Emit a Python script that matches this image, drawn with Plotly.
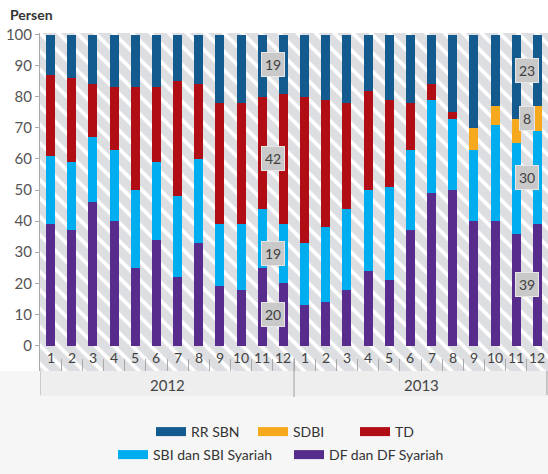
import plotly.graph_objects as go

# ---------------- data ----------------
years = ["2012", "2013"]
months = [str(m) for m in range(1, 13)]
categories = [f"{y}-{m}" for y in years for m in months]

rr_sbn = [13, 14, 16, 17, 17, 17, 15, 16, 22, 22, 20, 19,
          20, 21, 22, 18, 21, 22, 16, 25, 30, 23, 27, 23]
sdbi = [0, 0, 0, 0, 0, 0, 0, 0, 0, 0, 0, 0,
        0, 0, 0, 0, 0, 0, 0, 0, 7, 6, 8, 8]
td = [26, 27, 17, 20, 33, 24, 37, 24, 39, 39, 36, 42,
      47, 41, 34, 32, 28, 15, 5, 2, 0, 0, 0, 0]
sbi = [22, 22, 21, 23, 25, 25, 26, 27, 20, 21, 19, 19,
       20, 24, 26, 26, 30, 26, 30, 23, 23, 31, 29, 30]
df = [39, 37, 46, 40, 25, 34, 22, 33, 19, 18, 25, 20,
      13, 14, 18, 24, 21, 37, 49, 50, 40, 40, 36, 39]

# stacking order bottom -> top
series = [
    ("DF dan DF Syariah", df, "#582c8c", "legend2"),
    ("SBI dan SBI Syariah", sbi, "#00adef", "legend2"),
    ("SDBI", sdbi, "#f6a91c", "legend"),
    ("TD", td, "#b10d15", "legend"),
    ("RR SBN", rr_sbn, "#135b8e", "legend"),
]
legend_order = ["RR SBN", "SDBI", "TD", "SBI dan SBI Syariah", "DF dan DF Syariah"]
label_idx = [11, 23]  # December bars whose values are printed

# ---------------- layout constants ----------------
Y_MIN, Y_MAX = -8.2, 100.5
FONT = "Lato"
W, H = 548, 474
ML, MR, MT, MB = 40, 0, 33, 103
plot_h = H - MT - MB
plot_w = W - ML - MR

def py(px_from_plot_bottom):
    return -px_from_plot_bottom / plot_h

def px(x_pixel):
    return (x_pixel - ML) / plot_w

fig = go.Figure()

# hatched background
fig.add_trace(go.Bar(
    x=categories, y=[Y_MAX - Y_MIN] * len(categories), base=Y_MIN, width=1,
    marker=dict(color="#dddee1", line=dict(width=0),
                pattern=dict(shape="\\", fgcolor="white", bgcolor="#dddee1",
                             size=13, solidity=0.28, fillmode="replace")),
    showlegend=False, hoverinfo="skip"))

base = [0] * len(categories)
for name, vals, color, _ in series:
    fig.add_trace(go.Bar(
        x=categories, y=vals, base=list(base), width=0.42, name=name,
        marker=dict(color=color, line=dict(width=0)), showlegend=False))
    for i in label_idx:
        if vals[i] > 0:
            fig.add_annotation(
                x=i - 0.5, y=base[i] + vals[i] / 2, xref="x", yref="y",
                text=str(vals[i]), showarrow=False,
                font=dict(family=FONT, size=14, color="#404040"),
                bgcolor="#c9c9c9", bordercolor="#e6e6e6", borderwidth=1, borderpad=3)
    base = [b + v for b, v in zip(base, vals)]

# legend proxies
lookup = {s[0]: s for s in series}
for name in legend_order:
    _, _, color, lg = lookup[name]
    fig.add_trace(go.Scatter(x=[None], y=[None], mode="lines", name=name,
                             line=dict(color=color, width=9), legend=lg,
                             hoverinfo="skip"))

# month labels
for c, m in zip(categories, months * len(years)):
    fig.add_annotation(x=c, y=-3.9, xref="x", yref="y", text=m, showarrow=False,
                       font=dict(family=FONT, size=14, color="#444444"))
# year labels
for k, y in enumerate(years):
    fig.add_annotation(x=k * 12 + 5.5, y=py(14), xref="x", yref="paper", text=y,
                       showarrow=False, yanchor="middle",
                       font=dict(family=FONT, size=15, color="#444444"))

fig.add_annotation(x=px(8), y=(plot_h + 19) / plot_h, xref="paper", yref="paper",
                   text="<b>Persen</b>", showarrow=False, xanchor="left", yanchor="middle",
                   font=dict(family=FONT, size=14, color="#333333"))

shapes = [
    dict(type="rect", xref="paper", yref="paper", x0=px(0), x1=px(W + 2), y0=0, y1=py(103),
         fillcolor="#f6f6f6", line=dict(width=0), layer="below"),
    dict(type="rect", xref="paper", yref="paper", x0=0, x1=1, y0=0, y1=py(25),
         fillcolor="#eeeeee", line=dict(width=0), layer="below"),
    dict(type="line", xref="x", yref="paper", x0=-0.5, x1=-0.5, y0=0, y1=py(24),
         line=dict(color="#a8a8a8", width=1)),
    dict(type="line", xref="x", yref="paper", x0=11.5, x1=11.5, y0=13 / plot_h, y1=py(26),
         line=dict(color="#a0a0a0", width=1)),
    dict(type="line", xref="x", yref="paper", x0=23.45, x1=23.45, y0=0, y1=py(24),
         line=dict(color="#a0a0a0", width=1)),
]

legend_common = dict(orientation="h", xanchor="left", yanchor="middle",
                     font=dict(family=FONT, size=14, color="#333333"),
                     bgcolor="rgba(0,0,0,0)", itemclick=False, itemdoubleclick=False)

fig.update_layout(
    width=W, height=H, margin=dict(l=ML, r=MR, t=MT, b=MB),
    barmode="overlay", bargap=0,
    paper_bgcolor="white", plot_bgcolor="white",
    font=dict(family=FONT),
    shapes=shapes,
    showlegend=True,
    legend=dict(x=px(151), y=py(61), entrywidth=57, **legend_common),
    legend2=dict(x=px(113), y=py(84), entrywidth=131, **legend_common),
    xaxis=dict(type="category", categoryorder="array", categoryarray=categories,
               range=[-0.5, len(categories) - 0.5], showticklabels=False,
               ticks="inside", tickson="boundaries", ticklen=12, tickcolor="#a8a8a8",
               showgrid=False, zeroline=False, showline=False, fixedrange=True),
    yaxis=dict(range=[Y_MIN, Y_MAX], tickvals=list(range(0, 101, 10)),
               ticks="outside", ticklen=4, tickcolor="#a8a8a8",
               showline=True, linecolor="#a8a8a8", linewidth=1,
               showgrid=False, zeroline=False,
               tickfont=dict(family=FONT, size=15, color="#555555"), fixedrange=True),
)

fig.write_html("out.html")
